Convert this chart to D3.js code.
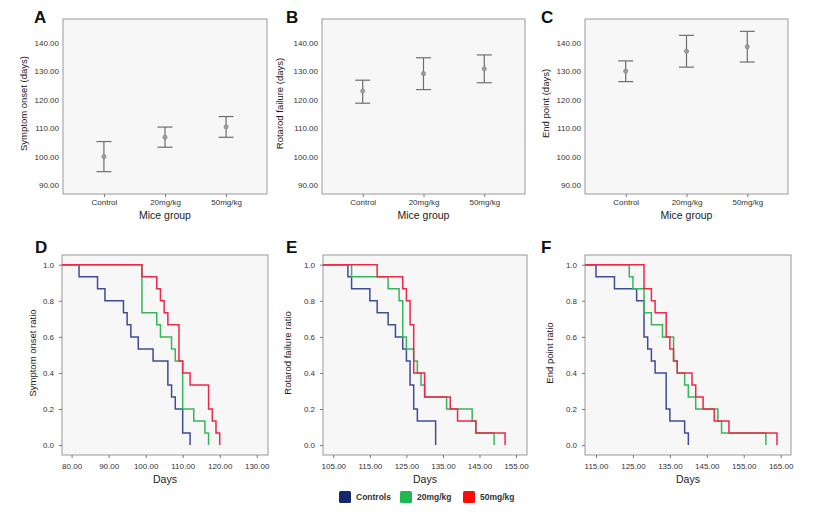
<!DOCTYPE html>
<html><head><meta charset="utf-8">
<script src="https://cdn.jsdelivr.net/npm/d3@7/dist/d3.min.js"></script>
<style>
body{margin:0;background:#fff;}
svg{display:block;font-family:"Liberation Sans",Arial,sans-serif;}
</style></head>
<body><svg id="chart" width="813" height="512"></svg>
<script>
// ---------- data ----------
const groups = ["Control", "20mg/kg", "50mg/kg"];
const yTicksTop = [90, 100, 110, 120, 130, 140];

const onsetMean = [100.0, 106.8, 110.5];
const onsetLow  = [94.7, 103.3, 106.8];
const onsetHigh = [105.3, 110.4, 114.1];

const rotarodMean = [123.1, 129.2, 130.9];
const rotarodLow  = [118.8, 123.6, 126.0];
const rotarodHigh = [126.9, 134.8, 135.8];

const endMean = [130.1, 137.1, 138.7];
const endLow  = [126.4, 131.5, 133.3];
const endHigh = [133.7, 142.7, 144.1];

const kmSeries = ["Controls", "20mg/kg", "50mg/kg"];
const ratioTicks = [0, 0.2, 0.4, 0.6, 0.8, 1.0];

// event days (n = 15 per group)
const onsetControls = [82,87,89,94,95,96,98,102,106,106,107,108,110,110,112];
const onset20       = [99,99,99,99,103,104,107,108,110,110,110,110,113,116,117];
const onset50       = [99,103,104,105,106,109,109,109,110,112,117,117,118,119,120];
const onsetDayTicks = [80,90,100,110,120,130];

const rotarodControls = [109,110,115,117,120,122,124,125,126,126,127,127,128,133,133];
const rotarod20       = [110,120,123,124,124,124,125,127,128,129,130,136,143,144,149];
const rotarod50       = [117,124,125,126,126,127,127,127,127,130,130,137,139,144,152];
const rotarodDayTicks = [105,115,125,135,145,155];

const endControls = [115,120,126,128,128,128,129,130,131,134,134,134,135,139,140];
const end20       = [124,125,128,128,130,133,136,136,137,139,140,142,148,149,161];
const end50       = [128,128,130,131,134,134,135,136,137,141,142,144,147,151,164];
const endDayTicks = [115,125,135,145,155,165];

// ---------- styling ----------
const lineColors = ["#3f4c98", "#38b65a", "#ef2749"];
const legendColors = ["#13296b", "#1fb850", "#fb0c0c"];
const frameFill = "#f7f7f7", frameStroke = "#9a9a9a";

const svg = d3.select("#chart");

function frame(g, w, h) {
  g.append("rect").attr("width", w).attr("height", h)
    .attr("fill", frameFill).attr("stroke", frameStroke).attr("stroke-width", 1);
}
function letter(text, x, y) {
  svg.append("text").attr("x", x).attr("y", y).text(text)
    .attr("font-size", 17).attr("font-weight", "bold").attr("fill", "#111");
}
function styleAxis(ax) {
  ax.select(".domain").remove();
  ax.selectAll("line").attr("stroke", "#777");
  ax.selectAll("text").attr("fill", "#333").attr("font-size", 8)
    .attr("font-family", "Liberation Sans, Arial, sans-serif");
}

// ---------- top panels: mean +/- error ----------
function errorPanel(cfg) {
  const w = cfg.w, h = cfg.h;
  const g = svg.append("g").attr("transform", `translate(${cfg.x},${cfg.y})`);
  frame(g, w, h);
  const x = d3.scalePoint().domain(groups).range([0, w]).padding(0.67);
  const y = d3.scaleLinear().domain([86.83, 148.45]).range([h, 0]);
  const ya = g.append("g").call(d3.axisLeft(y).tickValues(yTicksTop).tickFormat(d3.format(".2f")).tickSize(0).tickPadding(4));
  styleAxis(ya);
  const xa = g.append("g").attr("transform", `translate(0,${h})`)
    .call(d3.axisBottom(x).tickSize(3).tickPadding(2));
  styleAxis(xa);
  const data = groups.map((k, i) => ({k, m: cfg.mean[i], lo: cfg.low[i], hi: cfg.high[i]}));
  const cap = 7.5;
  const eb = g.selectAll(".eb").data(data).join("g");
  eb.append("line").attr("x1", d => x(d.k)).attr("x2", d => x(d.k))
    .attr("y1", d => y(d.lo)).attr("y2", d => y(d.hi)).attr("stroke", "#6e6e6e").attr("stroke-width", 1.2);
  eb.append("line").attr("x1", d => x(d.k) - cap).attr("x2", d => x(d.k) + cap)
    .attr("y1", d => y(d.hi)).attr("y2", d => y(d.hi)).attr("stroke", "#6e6e6e").attr("stroke-width", 1.2);
  eb.append("line").attr("x1", d => x(d.k) - cap).attr("x2", d => x(d.k) + cap)
    .attr("y1", d => y(d.lo)).attr("y2", d => y(d.lo)).attr("stroke", "#6e6e6e").attr("stroke-width", 1.2);
  eb.append("circle").attr("cx", d => x(d.k)).attr("cy", d => y(d.m)).attr("r", 2.1)
    .attr("fill", "#a0a0a0").attr("stroke", "#777").attr("stroke-width", 0.6);
  g.append("text").attr("x", x(groups[1])).attr("y", h + 25).attr("text-anchor", "middle")
    .attr("font-size", 10.5).attr("fill", "#222").text("Mice group");
  g.append("text").attr("transform", `translate(${cfg.ylabX},${h / 2 - 3}) rotate(-90)`)
    .attr("text-anchor", "middle").attr("dominant-baseline", "central")
    .attr("font-size", 9.5).attr("fill", "#222").text(cfg.ylabel);
}

errorPanel({x: 63, y: 19, w: 204, h: 175, mean: onsetMean, low: onsetLow, high: onsetHigh,
  ylabel: "Symptom onset (days)", ylabX: -40});
errorPanel({x: 322, y: 19, w: 203, h: 175, mean: rotarodMean, low: rotarodLow, high: rotarodHigh,
  ylabel: "Rotarod failure (days)", ylabX: -43});
errorPanel({x: 585, y: 19, w: 203, h: 175, mean: endMean, low: endLow, high: endHigh,
  ylabel: "End point (days)", ylabX: -40});

// ---------- bottom panels: Kaplan-Meier ----------
function kmPoints(days, x0) {
  const n = days.length;
  const pts = [{t: x0, s: 1}];
  const counts = d3.rollups(days, v => v.length, d => d).sort((a, b) => a[0] - b[0]);
  let left = n;
  counts.forEach(([t, c]) => { left -= c; pts.push({t, s: left / n}); });
  return pts;
}
function kmPanel(cfg) {
  const w = cfg.w, h = cfg.h;
  const g = svg.append("g").attr("transform", `translate(${cfg.x},${cfg.y})`);
  frame(g, w, h);
  const x = d3.scaleLinear().domain(cfg.xdom).range([0, w]);
  const y = d3.scaleLinear().domain([-0.055, 1.054]).range([h, 0]);
  const ya = g.append("g").call(d3.axisLeft(y).tickValues(ratioTicks).tickFormat(d3.format(".1f")).tickSize(3).tickPadding(5));
  styleAxis(ya);
  const xa = g.append("g").attr("transform", `translate(0,${h})`)
    .call(d3.axisBottom(x).tickValues(cfg.ticks).tickFormat(d3.format(".2f")).tickSize(3).tickPadding(5));
  styleAxis(xa);
  const line = d3.line().x(d => x(d.t)).y(d => y(d.s)).curve(d3.curveStepAfter);
  cfg.series.forEach((days, i) => {
    g.append("path").attr("d", line(kmPoints(days, cfg.xdom[0])))
      .attr("fill", "none").attr("stroke", lineColors[i]).attr("stroke-width", 1.5);
  });
  g.append("text").attr("x", w / 2).attr("y", h + 28).attr("text-anchor", "middle")
    .attr("font-size", 10.5).attr("fill", "#222").text("Days");
  g.append("text").attr("transform", `translate(${cfg.ylabX},${h / 2 - 2}) rotate(-90)`)
    .attr("text-anchor", "middle").attr("dominant-baseline", "central")
    .attr("font-size", 9.5).attr("fill", "#222").text(cfg.ylabel);
}

kmPanel({x: 62, y: 255, w: 206, h: 200, xdom: [77.4, 133.05], ticks: onsetDayTicks,
  series: [onsetControls, onset20, onset50], ylabel: "Symptom onset ratio", ylabX: -30});
kmPanel({x: 323, y: 255, w: 204, h: 200, xdom: [102.18, 158.0], ticks: rotarodDayTicks,
  series: [rotarodControls, rotarod20, rotarod50], ylabel: "Rotarod failure ratio", ylabX: -36});
kmPanel({x: 585, y: 255, w: 206, h: 200, xdom: [112.02, 167.8], ticks: endDayTicks,
  series: [endControls, end20, end50], ylabel: "End point ratio", ylabX: -36});

// ---------- panel letters ----------
letter("A", 34, 23); letter("B", 286, 23); letter("C", 541, 23);
letter("D", 35, 253); letter("E", 286, 253); letter("F", 541, 253);

// ---------- legend ----------
const legX = [339, 400, 463];
const leg = svg.append("g");
kmSeries.forEach((name, i) => {
  leg.append("rect").attr("x", legX[i]).attr("y", 491).attr("width", 12).attr("height", 12)
    .attr("rx", 1.5).attr("fill", legendColors[i]);
  leg.append("text").attr("x", legX[i] + 17).attr("y", 497).attr("dominant-baseline", "central")
    .attr("font-size", 8.5).attr("font-weight", "bold").attr("fill", "#333").text(name);
});
</script></body></html>
